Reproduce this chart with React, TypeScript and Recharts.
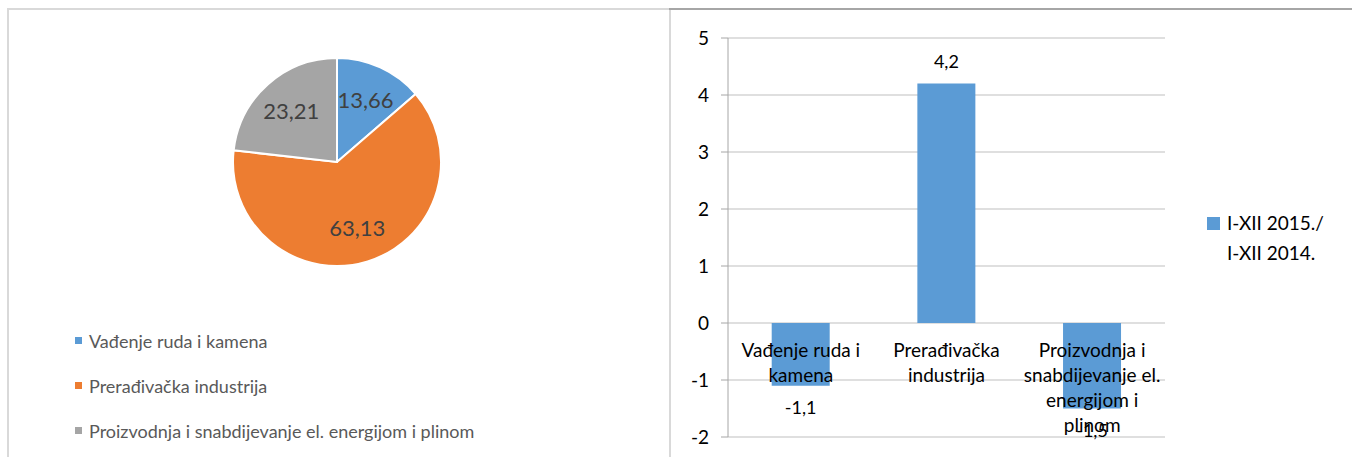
import React from 'react';
import {
    PieChart,
    Pie,
    Cell,
    Legend,
    BarChart,
    Bar,
    YAxis,
    XAxis,
    CartesianGrid,
    LabelList,
    ReferenceDot,
    Text,
} from 'recharts';

const sectors = ['Vađenje ruda i kamena', 'Prerađivačka industrija', 'Proizvodnja i snabdijevanje el. energijom i plinom'];
const shares = [13.66, 63.13, 23.21];
const changes = [-1.1, 4.2, -1.5];
const seriesName = 'I-XII 2015./ I-XII 2014.';
const yTicks = [-2, -1, 0, 1, 2, 3, 4, 5];

const colors = ['#5B9BD5', '#ED7D31', '#A5A5A5'];
const FONT = 'Lato, "Open Sans", sans-serif';

const pieData = sectors.map((name, i) => ({ name, value: shares[i] }));
const barData = sectors.map((name, i) => ({ name, value: changes[i] }));

const comma = (v: number) => String(v).replace('.', ',');

const RAD = Math.PI / 180;

function PieLabel(props: any) {
    const { cx, cy, midAngle, outerRadius, value } = props;
    const r = outerRadius * 0.66;
    const x = cx + r * Math.cos(-midAngle * RAD);
    const y = cy + r * Math.sin(-midAngle * RAD);
    return (
        <text x={x} y={y} textAnchor="middle" dominantBaseline="central" fill="#404040" fontSize={22} fontFamily={FONT}>
            {comma(value)}
        </text>
    );
}

function PieLegend({ payload }: any) {
    const items = [...payload].sort((a: any, b: any) => sectors.indexOf(a.value) - sectors.indexOf(b.value));
    return (
        <div style={{ fontFamily: FONT, fontSize: 18, color: '#595959' }}>
            {items.map((p: any) => (
                <div key={p.value} style={{ display: 'flex', alignItems: 'center', height: 45 }}>
                    <span style={{ width: 7, height: 7, background: p.color, marginRight: 7, display: 'inline-block' }} />
                    {p.value}
                </div>
            ))}
        </div>
    );
}

function BarLegend({ payload }: any) {
    return (
        <div style={{ fontFamily: FONT, fontSize: 19, color: '#000', display: 'flex', alignItems: 'flex-start', lineHeight: '30px' }}>
            {payload.map((p: any) => (
                <React.Fragment key={p.value}>
                    <span style={{ width: 13, height: 13, background: p.color, marginRight: 7, marginTop: 9, flex: 'none' }} />
                    <span style={{ width: 108 }}>{p.value}</span>
                </React.Fragment>
            ))}
        </div>
    );
}

function CategoryLabel(label: string) {
    return (props: any) => (
        <Text
            x={props.cx}
            y={props.cy + 21}
            width={124}
            textAnchor="middle"
            verticalAnchor="start"
            lineHeight={25}
            style={{ fontSize: 19, fontFamily: FONT }}
            fontSize={19}
            fontFamily={FONT}
            fill="#000"
        >
            {label}
        </Text>
    );
}

export default function App() {
    return (
        <div style={{ position: 'fixed', left: 0, top: 0, width: 1352, height: 457, background: '#fff', overflow: 'hidden' }}>
            <div
                style={{
                    position: 'absolute',
                    left: 7,
                    top: 8,
                    width: 660,
                    height: 460,
                    borderTop: '2px solid #d9d9d9',
                    borderLeft: '2px solid #d9d9d9',
                    borderRight: '2px solid #d9d9d9',
                }}
            >
                <PieChart width={660} height={449}>
                    <Pie
                        data={pieData}
                        dataKey="value"
                        nameKey="name"
                        cx={323}
                        cy={147}
                        outerRadius={104}
                        startAngle={90}
                        endAngle={-270}
                        stroke="#fff"
                        strokeWidth={2}
                        label={PieLabel}
                        labelLine={false}
                        isAnimationActive={false}
                    >
                        {pieData.map((d, i) => (
                            <Cell key={d.name} fill={colors[i]} />
                        ))}
                    </Pie>
                    <Legend
                        content={PieLegend}
                        layout="vertical"
                        align="center"
                        verticalAlign="middle"
                        wrapperStyle={{ position: 'absolute', left: 66, top: 308, width: 560 }}
                    />
                </PieChart>
            </div>
            <div
                style={{
                    position: 'absolute',
                    left: 669,
                    top: 8,
                    width: 683,
                    height: 460,
                    borderTop: '2px solid #a6a6a6',
                }}
            >
                <BarChart
                    width={683}
                    height={447}
                    data={barData}
                    margin={{ top: 28, right: 187, left: 0, bottom: 20 }}
                    barCategoryGap="30%"
                >
                    <CartesianGrid vertical={false} stroke="#bfbfbf" />
                    <XAxis dataKey="name" hide />
                    <YAxis
                        width={59}
                        domain={[-2, 5]}
                        ticks={yTicks}
                        interval={0}
                        tickSize={7}
                        tickMargin={12}
                        axisLine={{ stroke: '#a6a6a6' }}
                        tickLine={{ stroke: '#a6a6a6' }}
                        tick={{ fill: '#000', fontSize: 19, fontFamily: FONT }}
                    />
                    <Bar dataKey="value" name={seriesName} fill={colors[0]} isAnimationActive={false}>
                        <LabelList
                            dataKey="value"
                            position="top"
                            offset={16}
                            formatter={(v: any) => comma(v)}
                            style={{ fill: '#000', fontSize: 18, fontFamily: FONT }}
                        />
                    </Bar>
                    {barData.map((d) => (
                        <ReferenceDot key={d.name} x={d.name} y={0} r={1} shape={CategoryLabel(d.name)} />
                    ))}
                    <Legend
                        content={BarLegend}
                        layout="vertical"
                        align="center"
                        verticalAlign="middle"
                        wrapperStyle={{ position: 'absolute', left: 538, top: 198, width: 140 }}
                    />
                </BarChart>
            </div>
        </div>
    );
}
